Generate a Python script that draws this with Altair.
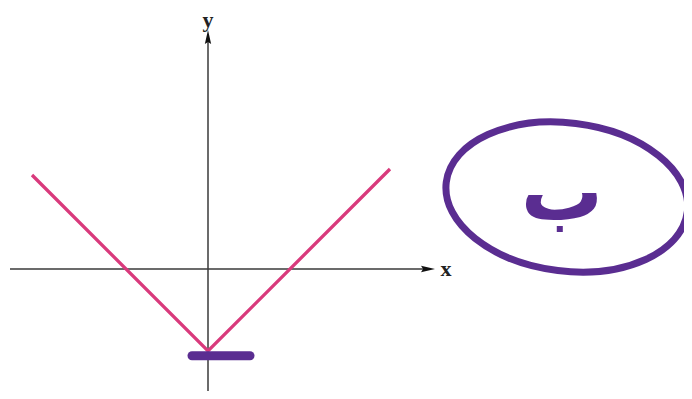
import altair as alt
import pandas as pd

# ---- data (graph units) ----
v_x = [-4.4, 0.0, 4.55]
v_y = [2.35, -2.05, 2.5]

axis_labels = ["x", "y"]
circle_letter = "ب"

# ---- scales ----
XD = [-5.0, 11.9]
YD = [-3.05, 6.525]
xs = alt.Scale(domain=XD, nice=False, zero=False)
ys = alt.Scale(domain=YD, nice=False, zero=False)

def X(f="x"):
    return alt.X(f"{f}:Q", scale=xs, axis=None)

def Y(f="y"):
    return alt.Y(f"{f}:Q", scale=ys, axis=None)

AX = "#3a3a3a"
PINK = "#d93a7c"
PURPLE = "#5a2d91"

# axes lines
xaxis = alt.Chart(pd.DataFrame({"x": [-4.95], "x2": [5.5], "y": [0.0]})).mark_rule(
    color=AX, strokeWidth=1.5).encode(x=X(), x2="x2:Q", y=Y())
yaxis = alt.Chart(pd.DataFrame({"x": [0.0], "y": [-3.05], "y2": [5.8]})).mark_rule(
    color=AX, strokeWidth=1.5).encode(x=X(), y=Y(), y2="y2:Q")

# arrow heads
arr_up = alt.Chart(pd.DataFrame({"x": [0.0], "y": [5.8]})).mark_point(
    shape="M 0 -1 L 0.45 1 L 0 0.7 L -0.45 1 Z", size=196, filled=True, color="#111", opacity=1
).encode(x=X(), y=Y())
arr_right = alt.Chart(pd.DataFrame({"x": [5.5], "y": [0.0]})).mark_point(
    shape="M 1 0 L -1 -0.45 L -0.7 0 L -1 0.45 Z", size=196, filled=True, color="#111", opacity=1
).encode(x=X(), y=Y())

# axis labels
lab = alt.Chart(pd.DataFrame({"t": axis_labels, "x": [5.95, 0.0], "y": [0.0, 6.22]})).mark_text(
    font="Liberation Serif", fontWeight="bold", fontSize=22, color="#222", baseline="middle", align="center"
).encode(x=X(), y=Y(), text="t:N")

# V graph
vline = alt.Chart(pd.DataFrame({"x": v_x, "y": v_y, "o": [0, 1, 2]})).mark_line(
    color=PINK, strokeWidth=3.3).encode(x=X(), y=Y(), order="o:Q")

# purple annotations
scribble = alt.Chart(pd.DataFrame({"x": [-0.4], "x2": [1.05], "y": [-2.17]})).mark_rule(
    color=PURPLE, strokeWidth=9, strokeCap="round").encode(x=X(), x2="x2:Q", y=Y())

ellipse = alt.Chart(pd.DataFrame({"x": [8.97], "y": [1.8]})).mark_point(
    shape="M -1 0 A 1 0.61 0 1 1 1 0 A 1 0.61 0 1 1 -1 0 Z",
    size=59000, filled=False, color=PURPLE, strokeWidth=7, opacity=1, angle=7
).encode(x=X(), y=Y())

letter = alt.Chart(pd.DataFrame({"t": [circle_letter], "x": [8.85], "y": [1.85]})).mark_text(
    font="DejaVu Sans", fontSize=82, fontWeight="bold", color=PURPLE, baseline="middle", align="center"
).encode(x=X(), y=Y(), text="t:N")

chart = alt.layer(xaxis, yaxis, arr_up, arr_right, lab, vline, scribble, ellipse, letter).properties(
    width=676, height=383, padding=0, autosize=alt.AutoSizeParams(type="none")
).configure_view(stroke=None)

chart.save("out.html", embed_options={"renderer": "svg", "actions": False})
